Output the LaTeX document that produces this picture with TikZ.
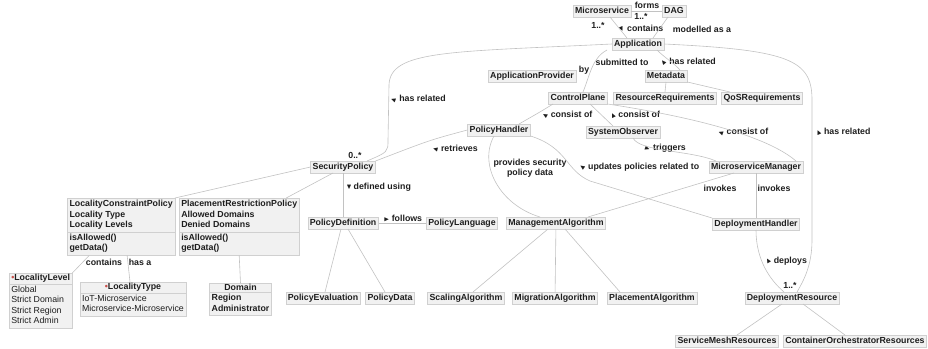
\documentclass[tikz,border=0pt]{standalone}
\usepackage{amsmath}
\usepackage{amssymb}
\usepackage{fontspec}
\setmainfont{Liberation Sans}
\usepackage{tikz}
\usetikzlibrary{shapes.multipart}

\definecolor{boxfill}{HTML}{F1F1F1}
\definecolor{boxline}{HTML}{D0D0D0}
\definecolor{linkgray}{HTML}{C2C2C2}
\definecolor{textgray}{HTML}{1E1E1E}
\definecolor{dotred}{HTML}{C8504A}

\newcommand{\dirarr}[1]{\rotatebox[origin=c]{#1}{\scalebox{0.8}{$\blacktriangleright$}}}

\begin{document}
\begin{tikzpicture}[
    x=1pt, y=-1pt,
    every node/.style={font=\fontsize{8.8}{10.4}\selectfont\bfseries, text=textgray},
    cls/.style={draw=boxline, fill=boxfill, line width=0.5pt, inner xsep=2pt,
      inner ysep=1.5pt, text height=6.6pt, text depth=1.9pt},
    classbox/.style={rectangle split, rectangle split parts=2, draw=boxline,
      fill=boxfill, line width=0.5pt, inner xsep=2pt, inner ysep=1pt},
    lbl/.style={inner sep=1pt},
    link/.style={draw=linkgray, line width=0.6pt}
  ]
  \useasboundingbox (0,0) rectangle (928,348);

  % plain classes
  \foreach \name/\x/\y in {Microservice/602/11, DAG/674/11, Application/638/44,
      ApplicationProvider/532/76, Metadata/666/76, ControlPlane/578/98,
      ResourceRequirements/665/98, QoSRequirements/762/98, PolicyHandler/499/130,
      SystemObserver/623/132, SecurityPolicy/343/167, MicroserviceManager/756/167,
      PolicyDefinition/343/223, PolicyLanguage/462/223, ManagementAlgorithm/556/223,
      DeploymentHandler/756/224, PolicyEvaluation/323/298, PolicyData/390/298,
      ScalingAlgorithm/466/298, MigrationAlgorithm/555/298,
      PlacementAlgorithm/652/298, DeploymentResource/792/298,
      ServiceMeshResources/727/341} {
    \node[cls] (\name) at (\x,\y) {\name};
  }
  \node[cls, anchor=west] (ContainerOrchestratorResources) at (783,341)
    {ContainerOrchestratorResources};

  % classes with members
  \node[classbox, anchor=north east, rectangle split part align={left}]
    (LocalityConstraintPolicy) at (175,198)
    {\begin{tabular}{@{}l@{}}LocalityConstraintPolicy\\Locality Type\\Locality Levels\end{tabular}
     \nodepart{two}\begin{tabular}{@{}l@{}}isAllowed()\\getData()\end{tabular}};
  \node[classbox, anchor=north west, rectangle split part align={left}]
    (PlacementRestrictionPolicy) at (179,198)
    {\begin{tabular}{@{}l@{}}PlacementRestrictionPolicy\\Allowed Domains\\Denied Domains\end{tabular}
     \nodepart{two}\begin{tabular}{@{}l@{}}isAllowed()\\getData()\end{tabular}};
  \node[classbox, anchor=north west, rectangle split part align={left}]
    (LocalityLevel) at (9,273)
    {\textcolor{dotred}{\textbullet}LocalityLevel
     \nodepart{two}{\mdseries\begin{tabular}{@{}l@{}}Global\\Strict Domain\\Strict Region\\Strict Admin\end{tabular}}};
  \node[classbox, anchor=north, rectangle split part align={center,left}]
    (LocalityType) at (133,282)
    {\textcolor{dotred}{\textbullet}LocalityType
     \nodepart{two}{\mdseries\begin{tabular}{@{}l@{}}IoT-Microservice\\Microservice-Microservice\end{tabular}}};
  \node[classbox, anchor=north, rectangle split part align={center,left}]
    (Domain) at (240.5,283)
    {Domain
     \nodepart{two}\begin{tabular}{@{}l@{}}Region\\Administrator\end{tabular}};

  % labels
  \node[lbl] (formsLbl) at (647,5) {forms};
  \node[lbl] (formsMult) at (641,16) {1..*};
  \node[lbl] (containsMult) at (598,25) {1..*};
  \node[lbl] (containsLbl) at (641,29) {\dirarr{-65} contains};
  \node[lbl] (modelledLbl) at (702,29) {modelled as a};
  \node[lbl] (submittedLbl) at (622,62) {submitted to};
  \node[lbl] (metaLbl) at (688,62) {\dirarr{130} has related};
  \node[lbl] (byLbl) at (584,70) {by};
  \node[lbl] (secRelLbl) at (418,99) {\dirarr{160} has related};
  \node[lbl] (consistPhLbl) at (567,115) {\dirarr{150} consist of};
  \node[lbl] (consistSoLbl) at (635,115) {\dirarr{115} consist of};
  \node[lbl] (consistMmLbl) at (743,132) {\dirarr{160} consist of};
  \node[lbl] (resRelLbl) at (843,132) {\dirarr{115} has related};
  \node[lbl] (retrievesLbl) at (455,149) {\dirarr{165} retrieves};
  \node[lbl] (triggersLbl) at (665,148) {\dirarr{-20} triggers};
  \node[lbl] (secMult) at (355,155) {0..*};
  \node[lbl, align=center] (providesLbl) at (530,168) {provides security\\policy data};
  \node[lbl] (updatesLbl) at (639,167) {\dirarr{145} updates policies related to};
  \node[lbl] (invokesMaLbl) at (720,188) {invokes};
  \node[lbl] (invokesDhLbl) at (774,188) {invokes};
  \node[lbl] (definedLbl) at (379,187) {\dirarr{-90} defined using};
  \node[lbl] (followsLbl) at (403,218) {\dirarr{0} follows};
  \node[lbl] (levelLbl) at (104,262) {contains};
  \node[lbl] (typeLbl) at (140,262) {has a};
  \node[lbl] (deploysLbl) at (786,261) {\dirarr{120} deploys};
  \node[lbl] (resMult) at (790,285) {1..*};

  % connectors
  \draw[link] (Microservice) -- (DAG);
  \draw[link] ([xshift=8pt]Microservice.south) -- ([xshift=-11pt]Application.north);
  \draw[link] ([xshift=-6pt]DAG.south) -- ([xshift=15pt]Application.north);
  \draw[link] (Application.west) .. controls (450,52) and (390,50) .. (389,85)
    -- (388,140) .. controls (388,152) .. ([xshift=24pt]SecurityPolicy.north);
  \draw[link] (Application.east) .. controls (790,50) and (812,60) .. (812,100)
    -- (812,240) .. controls (812,265) and (804,280) .. ([xshift=5pt]DeploymentResource.north);
  \draw[link] ([xshift=19pt]Application.south) .. controls (665,58) and (675,64) .. ([xshift=14pt]Metadata.north);
  \draw[link] ([xshift=-31pt]Application.south) .. controls (592,58) and (590,75) .. ([xshift=5pt]ControlPlane.north);
  \draw[link] (Metadata.south) -- (ResourceRequirements.north);
  \draw[link] (Metadata.south east) -- ([xshift=-32pt]QoSRequirements.north);
  \draw[link] ([xshift=-25pt]ControlPlane.south) .. controls (540,112) .. ([xshift=20pt]PolicyHandler.north);
  \draw[link] ([xshift=12pt]ControlPlane.south) -- ([xshift=-10pt]SystemObserver.north);
  \draw[link] (ControlPlane.south east) .. controls (660,112) and (760,130) .. ([xshift=40pt]MicroserviceManager.north);
  \draw[link] ([xshift=10pt]SystemObserver.south) .. controls (640,152) and (690,150) .. ([xshift=-40pt]MicroserviceManager.north);
  \draw[link] (PolicyHandler.west) .. controls (430,140) .. (SecurityPolicy.north east);
  \draw[link] ([xshift=-5pt]PolicyHandler.south) .. controls (478,165) and (500,205) .. ([xshift=-16pt]ManagementAlgorithm.north);
  \draw[link] (PolicyHandler.south east) .. controls (568,148) and (565,170) .. (590,181)
    -- ([xshift=-44pt]DeploymentHandler.north);
  \draw[link] ([xshift=-22pt]MicroserviceManager.south) -- ([xshift=32pt]ManagementAlgorithm.north);
  \draw[link] (MicroserviceManager) -- (DeploymentHandler);
  \draw[link] (DeploymentHandler.south) .. controls (756,260) and (770,280) .. ([xshift=-8pt]DeploymentResource.north);
  \draw[link] ([xshift=-10pt]DeploymentResource.south) -- ([xshift=10pt]ServiceMeshResources.north);
  \draw[link] ([xshift=11pt]DeploymentResource.south) -- ([xshift=-10pt]ContainerOrchestratorResources.north);
  \draw[link] (SecurityPolicy.west) -- (LocalityConstraintPolicy.north east);
  \draw[link] ([xshift=-10pt]SecurityPolicy.south) -- ([xshift=47pt]PlacementRestrictionPolicy.north);
  \draw[link] (SecurityPolicy) -- (PolicyDefinition);
  \draw[link] (PolicyDefinition) -- (PolicyLanguage);
  \draw[link] ([xshift=-2pt]PolicyDefinition.south) -- ([xshift=2pt]PolicyEvaluation.north);
  \draw[link] ([xshift=5pt]PolicyDefinition.south) -- ([xshift=-5pt]PolicyData.north);
  \draw[link] ([xshift=-8pt]ManagementAlgorithm.south) -- ([xshift=7pt]ScalingAlgorithm.north);
  \draw[link] (ManagementAlgorithm) -- (MigrationAlgorithm);
  \draw[link] ([xshift=9pt]ManagementAlgorithm.south) -- ([xshift=-32pt]PlacementAlgorithm.north);
  \draw[link] ([xshift=-32pt]LocalityConstraintPolicy.south) -- (LocalityLevel.north east);
  \draw[link] ([xshift=6pt]LocalityConstraintPolicy.south) -- ([xshift=-3pt]LocalityType.north);
  \draw[link] (PlacementRestrictionPolicy.south) -- (Domain.north);
\end{tikzpicture}
\end{document}
